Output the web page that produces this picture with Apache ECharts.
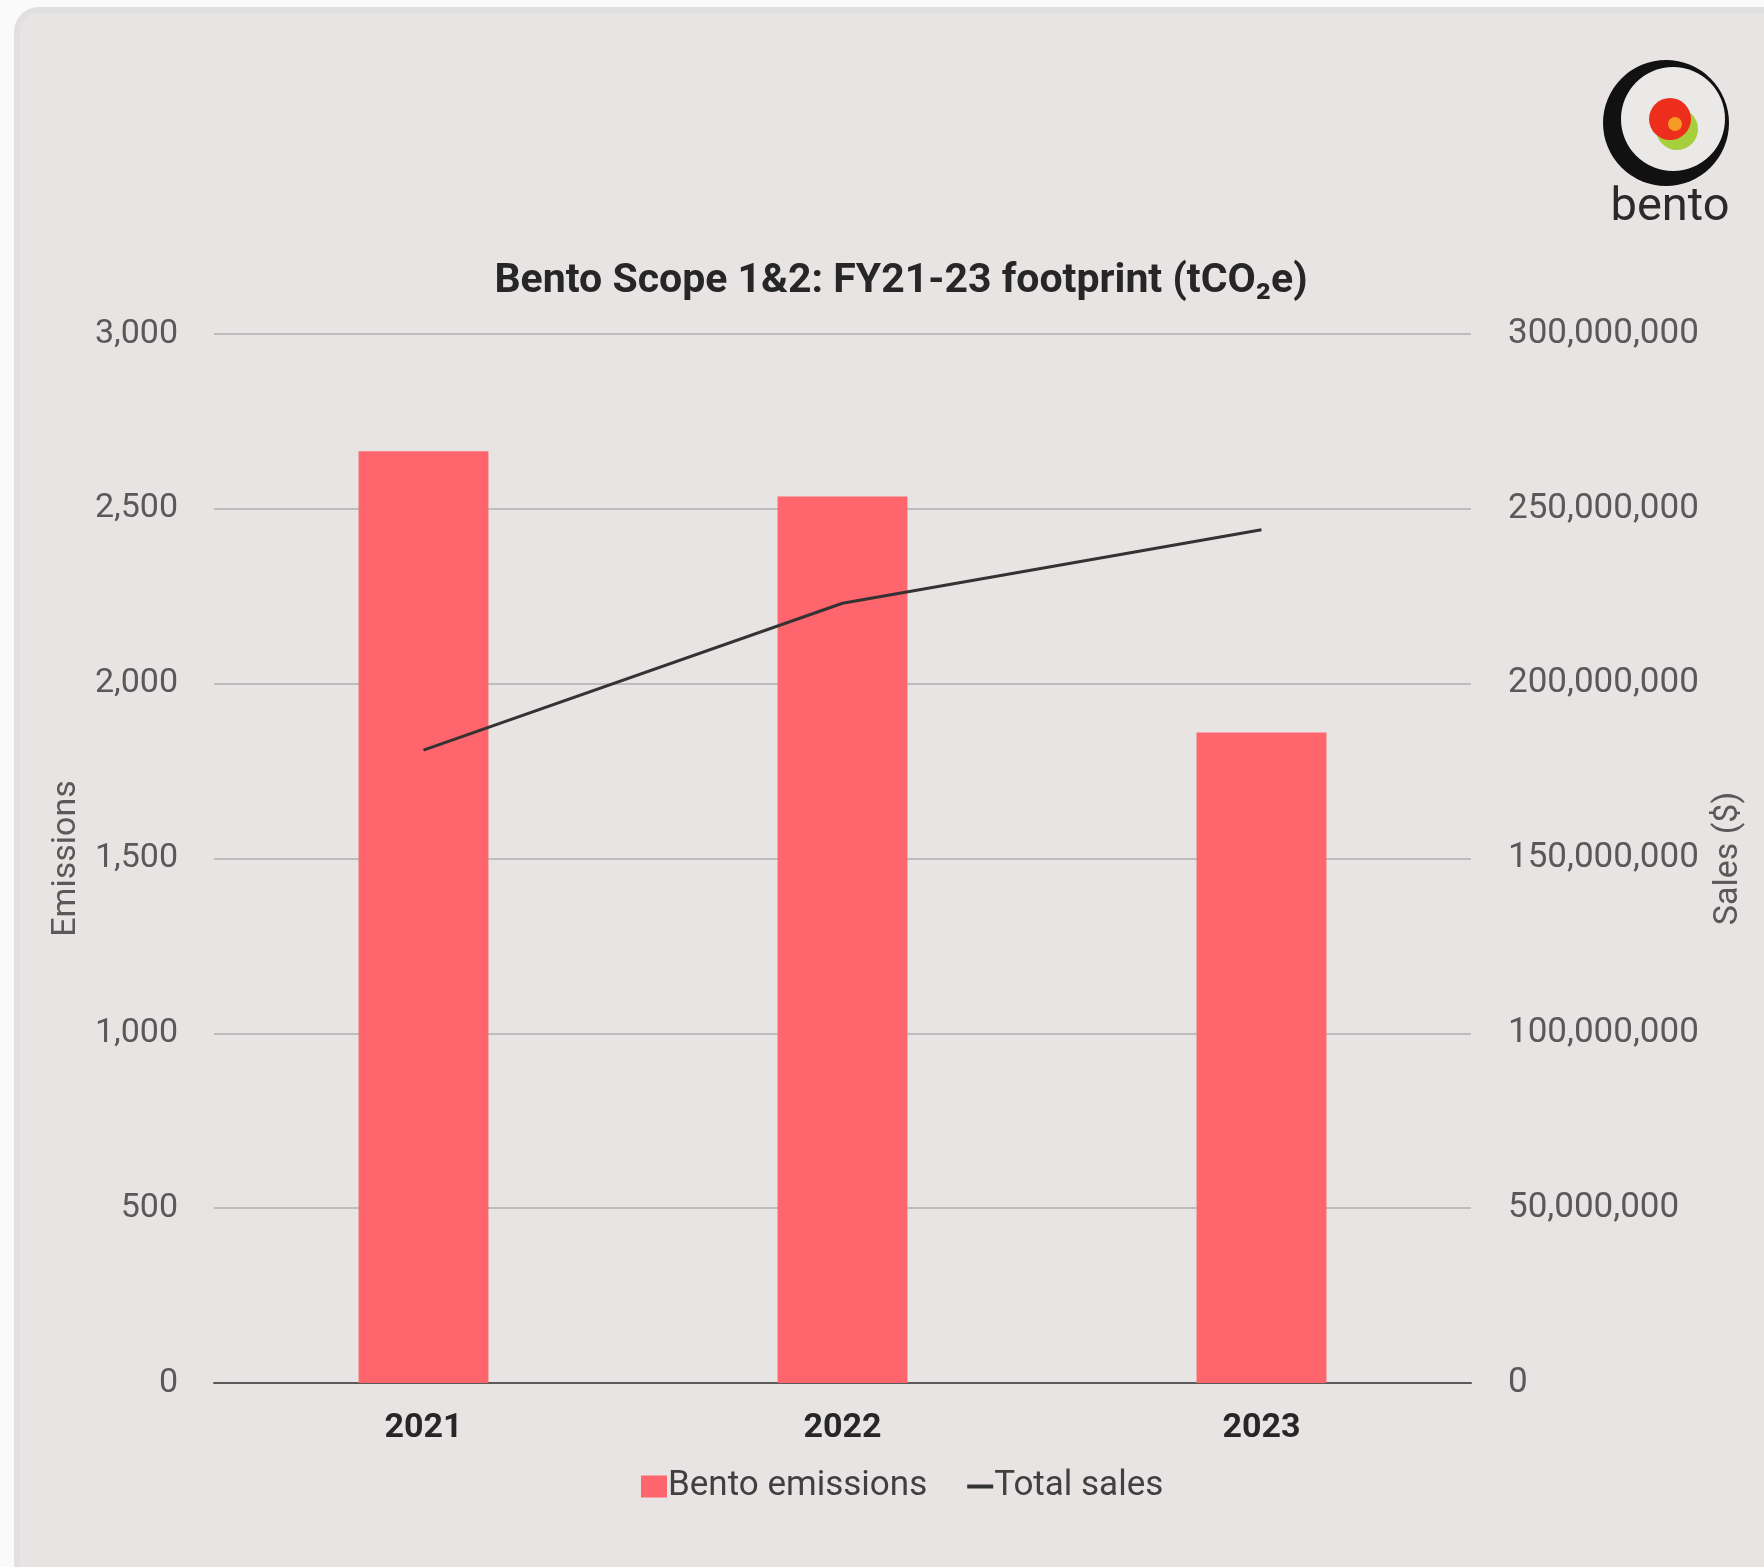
<!DOCTYPE html>
<html>
<head>
<meta charset="utf-8">
<title>Bento Scope 1&2</title>
<script src="https://cdn.jsdelivr.net/npm/echarts@6/dist/echarts.min.js"></script>
<style>
    html, body { margin: 0; padding: 0; background: #fafafa; }
    #chart { width: 1764px; height: 1567px; }
</style>
</head>
<body>
<div id="chart"></div>
<script>
// data
var years = ['2021', '2022', '2023'];
var emissions = [2665, 2535, 1860];
var totalSales = [181000000, 223000000, 244000000];
var leftTicks = [0, 3000, 500];
var rightTicks = [0, 300000000, 50000000];

var BAR_RED = '#ff656c';
var GREY_TEXT = '#595959';

function withCommas (v) {
    return Number(v).toLocaleString('en-US');
}

var myChart = echarts.init(document.getElementById('chart'));

var options = {
    backgroundColor: '#fafafa',
    animation: false,
    title: {
        text: 'Bento Scope 1&2: FY21-23 footprint (tCO\u2082e)',
        left: 896,
        top: 256,
        textAlign: 'center',
        textStyle: {
            fontFamily: 'Roboto',
            fontWeight: 'bold',
            fontSize: 41,
            color: '#262626'
        }
    },
    legend: {
        bottom: 58,
        left: 636,
        itemGap: 38,
        itemWidth: 26,
        itemHeight: 22,
        textStyle: {
            fontFamily: 'Roboto',
            fontSize: 35,
            color: '#404040',
            padding: [0, 0, 0, -4]
        },
        data: [
            { name: 'Bento emissions', icon: 'rect' },
            { name: 'Total sales', itemStyle: { opacity: 0 }, lineStyle: { width: 4, color: '#333333' } }
        ]
    },
    grid: {
        left: 214,
        right: 293,
        top: 334,
        bottom: 184
    },
    xAxis: {
        type: 'category',
        data: years,
        axisTick: { show: false },
        axisLine: { lineStyle: { color: '#595959', width: 2 } },
        axisLabel: {
            margin: 28,
            fontFamily: 'Roboto',
            fontWeight: 'bold',
            fontSize: 34,
            color: '#262626'
        }
    },
    yAxis: [
        {
            type: 'value',
            name: 'Emissions',
            nameLocation: 'middle',
            nameGap: 123,
            nameTextStyle: { fontFamily: 'Roboto', fontSize: 34, color: GREY_TEXT },
            min: leftTicks[0],
            max: leftTicks[1],
            interval: leftTicks[2],
            axisLine: { show: false },
            axisTick: { show: false },
            splitLine: { lineStyle: { color: '#bdbdbd', width: 2 } },
            axisLabel: {
                margin: 36,
                fontFamily: 'Roboto',
                fontSize: 34,
                color: GREY_TEXT,
                formatter: withCommas
            }
        },
        {
            type: 'value',
            name: 'Sales ($)',
            nameLocation: 'middle',
            nameGap: 240,
            nameRotate: 90,
            nameTextStyle: { fontFamily: 'Roboto', fontSize: 34, color: GREY_TEXT },
            min: rightTicks[0],
            max: rightTicks[1],
            interval: rightTicks[2],
            axisLine: { show: false },
            axisTick: { show: false },
            splitLine: { show: false },
            axisLabel: {
                margin: 37,
                fontFamily: 'Roboto',
                fontSize: 35,
                color: GREY_TEXT,
                formatter: withCommas
            }
        }
    ],
    series: [
        {
            name: 'Bento emissions',
            type: 'bar',
            yAxisIndex: 0,
            data: emissions,
            barWidth: '31%',
            itemStyle: { color: BAR_RED }
        },
        {
            name: 'Total sales',
            type: 'line',
            yAxisIndex: 1,
            data: totalSales,
            symbol: 'none',
            lineStyle: { color: '#333333', width: 3 },
            itemStyle: { color: '#333333' }
        }
    ],
    graphic: [
        // card behind the chart
        {
            type: 'rect',
            z: -10,
            silent: true,
            shape: { x: 17, y: 10, width: 1800, height: 1600, r: 22 },
            style: { fill: '#e8e4e4', stroke: '#e0e0e0', lineWidth: 6 }
        },
        // bento logo
        {
            type: 'group',
            silent: true,
            children: [
                { type: 'circle', shape: { cx: 1666, cy: 123, r: 63 }, style: { fill: '#111111' } },
                { type: 'circle', shape: { cx: 1673, cy: 119, r: 52 }, style: { fill: '#ebe8e8' } },
                { type: 'circle', shape: { cx: 1677, cy: 129, r: 21 }, style: { fill: '#a6cf3b' } },
                { type: 'circle', shape: { cx: 1670, cy: 119, r: 21 }, style: { fill: '#ee2e1c' } },
                { type: 'circle', shape: { cx: 1675, cy: 124, r: 7 }, style: { fill: '#f59a24' } },
                {
                    type: 'text',
                    style: {
                        x: 1670, y: 208,
                        text: 'bento',
                        align: 'center',
                        verticalAlign: 'middle',
                        fontFamily: 'Roboto',
                        fontSize: 47,
                        fill: '#2a2a2a'
                    }
                }
            ]
        }
    ]
};

myChart.setOption(options);
</script>
</body>
</html>
